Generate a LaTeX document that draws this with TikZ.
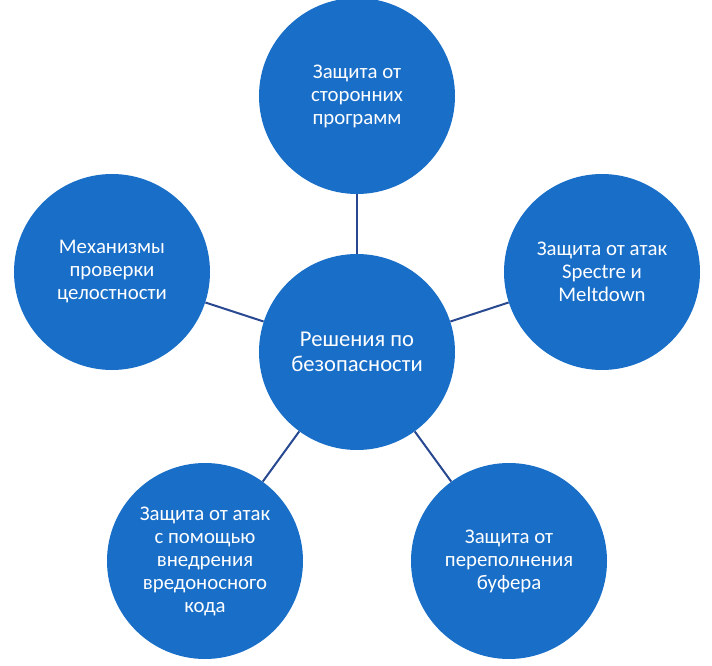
\documentclass[tikz,border=0pt]{standalone}
\usepackage{fontspec}
\setmainfont{Carlito}
\usepackage{tikz}

\definecolor{bubblefill}{RGB}{25,110,200}
\definecolor{linkcol}{RGB}{40,72,145}

\begin{document}
\begin{tikzpicture}[x=1pt, y=-1pt,
    bubble/.style={shape=circle, fill=bubblefill, draw=none, minimum size=196pt, inner sep=0pt,
        align=center, text=white, font=\fontsize{20.8}{23}\selectfont},
    hub/.style={bubble, font=\fontsize{22.6}{25}\selectfont},
    link/.style={draw=linkcol, line width=2pt}]
    \useasboundingbox (0,0) rectangle (712,666);
    \node[hub] at (357,352) (Core) {Решения по\\безопасности};
    \node[bubble] at (357,96) (Third) {Защита от\\сторонних\\программ};
    \node[bubble] at (602,272) (Spectre) {Защита от атак\\Spectre и\\Meltdown};
    \node[bubble] at (509,561) (Buffer) {Защита от\\переполнения\\буфера};
    \node[bubble] at (205,561) (Inject) {Защита от атак\\с помощью\\внедрения\\вредоносного\\кода};
    \node[bubble] at (112,272) (Check) {Механизмы\\проверки\\целостности};
    \path [link] (Core) edge (Third);
    \path [link] (Core) edge (Spectre);
    \path [link] (Core) edge (Buffer);
    \path [link] (Core) edge (Inject);
    \path [link] (Core) edge (Check);
\end{tikzpicture}
\end{document}
